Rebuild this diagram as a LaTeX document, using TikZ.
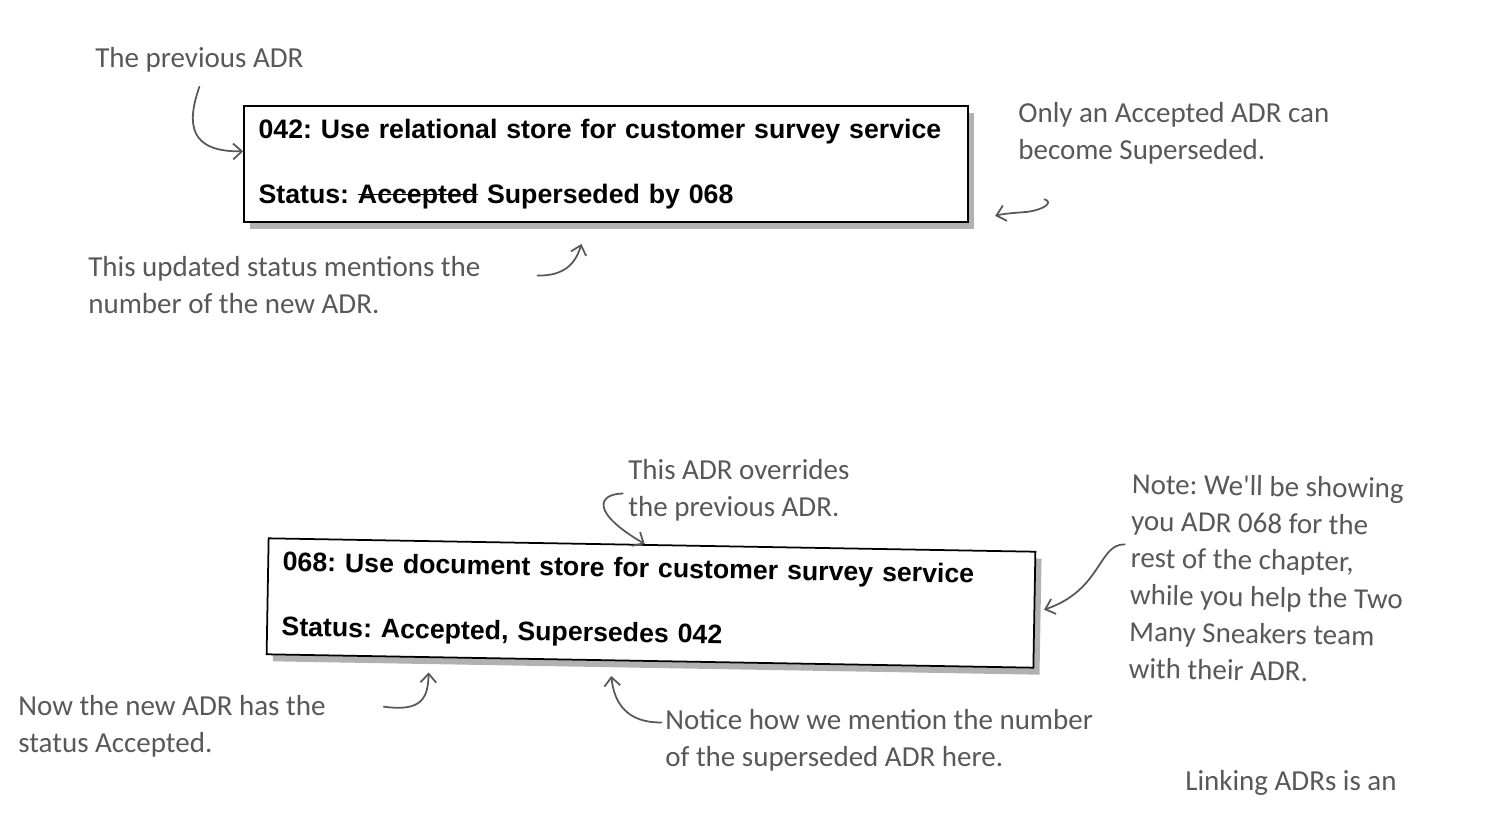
\documentclass[tikz,border=0pt]{standalone}
\usepackage{fontspec}
\setmainfont{Liberation Sans}
\newfontfamily\handfont{Carlito}
\usetikzlibrary{arrows.meta, positioning, shadows}
\definecolor{notegray}{RGB}{88,88,88}
\definecolor{shadowgray}{RGB}{100,100,100}
\newcommand\strikeword[1]{\setbox0\hbox{#1}\rlap{\rule[0.3em]{\wd0}{0.7pt}}\box0\relax}
\frenchspacing

\begin{document}
\begin{tikzpicture}[x=0.02cm, y=-0.02cm,
    adr/.style={rectangle, draw=black, line width=1pt, fill=white,
                minimum height=2.32cm, align=left, inner xsep=0.28cm,
                font=\fontsize{15.2}{18}\selectfont\bfseries,
                drop shadow={shadow xshift=3.5pt, shadow yshift=-4pt, fill=shadowgray, opacity=0.5}},
    note/.style={font=\handfont\fontsize{16.5}{21}\selectfont, text=notegray,
                 align=left, anchor=west, inner sep=0pt},
    pointer/.style={draw=notegray, line width=1pt, line cap=round,
                    -{Straight Barb[length=5pt, width=9pt]}}
]
    \useasboundingbox (0,0) rectangle (1490,814);

    % The two ADRs
    \node[adr, minimum width=14.48cm, text width=13.9cm] (adr042) at (606,164)
        {042: Use relational store for customer survey service\\[19pt]
         Status: \strikeword{Accepted} Superseded by 068};
    \node[adr, minimum width=15.34cm, text width=14.76cm, rotate=-1] (adr068) at (651,603)
        {068: Use document store for customer survey service\\[19pt]
         Status: Accepted, Supersedes 042};

    % Notes for ADR 042
    \node[note] (prevnote) at (95,60) {The previous ADR};
    \node[note] (onlynote) at (1018,133) {Only an Accepted ADR can\\become Superseded.};
    \node[note] (statusnote) at (88,285) {This updated status mentions the\\number of the new ADR.};

    % Notes for ADR 068
    \node[note] (overnote) at (628,490) {This ADR overrides\\the previous ADR.};
    \node[note, rotate=-1] (shownote) at (1130,576)
        {Note: We'll be showing\\you ADR 068 for the\\rest of the chapter,\\while you help the Two\\Many Sneakers team\\with their ADR.};
    \node[note] (acceptnote) at (18,726) {Now the new ADR has the\\status Accepted.};
    \node[note] (noticenote) at (665,740) {Notice how we mention the number\\of the superseded ADR here.};
    \node[note] (linknote) at (1185,783) {Linking ADRs is an};

    % Pointers
    \draw[pointer] ([yshift=-8pt]prevnote.south) .. controls (186,125) and (190,152) .. (adr042.178);
    \draw[pointer] ([xshift=15pt, yshift=-20pt]onlynote.south west) .. controls (1054,202) and (1044,210) .. (1026,212) .. controls (1012,213) and (1002,214) .. ([xshift=15pt, yshift=4pt]adr042.south east);
    \draw[pointer] ([xshift=-39pt, yshift=-30pt]adr042.south) .. controls (566,276) and (576,262) .. ([xshift=-14pt, yshift=-12pt]adr042.south);
    \draw[pointer] ([xshift=-3pt, yshift=-2pt]overnote.west) .. controls (598,494) and (590,512) .. (adr068.97);
    \draw[pointer] ([xshift=-3pt, yshift=18pt]shownote.west) .. controls (1098,544) and (1102,590) .. ([xshift=5pt]adr068.east);
    \draw[pointer] ([xshift=33pt, yshift=11pt]acceptnote.east) .. controls (422,712) and (428,698) .. ([xshift=-126pt, yshift=-6pt]adr068.south);
    \draw[pointer] ([xshift=-2pt, yshift=10pt]noticenote.west) .. controls (628,723) and (614,704) .. ([xshift=-22pt, yshift=-8pt]adr068.south);
\end{tikzpicture}
\end{document}
